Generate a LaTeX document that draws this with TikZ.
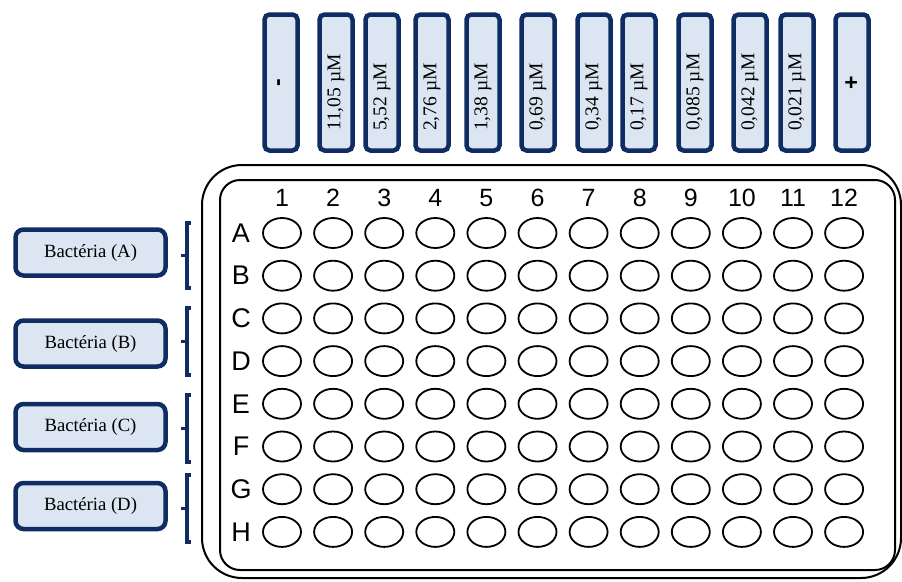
\documentclass[tikz,border=0pt]{standalone}
\usepackage{fontspec}
\setmainfont{Liberation Serif}
\setsansfont{Liberation Sans}
\usetikzlibrary{shapes.geometric}
\definecolor{platenavy}{HTML}{0F2D62}
\definecolor{platepale}{HTML}{DCE6F2}

\tikzset{
  concbox/.style={draw=platenavy, fill=platepale, line width=4.5pt, rounded corners=5pt, rotate=90,
    minimum width=136pt, minimum height=33pt, inner sep=0pt},
  conclabel/.style={rotate=90, anchor=west, inner sep=0pt, font=\fontsize{19.5}{19.5}\selectfont},
  signlabel/.style={font=\sffamily\bfseries\fontsize{23}{23}\selectfont},
  bactbox/.style={draw=platenavy, fill=platepale, line width=4.5pt, rounded corners=8pt,
    minimum width=150pt, minimum height=46pt, inner sep=0pt, font=\fontsize{18.7}{18.7}\selectfont},
  well/.style={draw, ellipse, line width=1.8pt, minimum width=38pt, minimum height=30pt, inner sep=0pt},
  colnum/.style={font=\sffamily\fontsize{25}{25}\selectfont, inner sep=0pt},
  rowletter/.style={font=\sffamily\fontsize{27}{27}\selectfont, inner sep=0pt},
  bracket/.style={draw=platenavy, line width=3.5pt}
}

\begin{document}
\begin{tikzpicture}[x=1pt, y=-1pt]
    \useasboundingbox (0,0) rectangle (902,581);
    % plate outline
    \draw[line width=2pt, rounded corners=40pt] (202,165) rectangle (901,578);
    \draw[line width=2pt, rounded corners=20pt] (220,180) rectangle (895,570);
    % controls and concentrations
    \node[concbox, signlabel] (neg) at (281,82.5) {-};
    \node[concbox, signlabel] (pos) at (852,82.5) {+};
    \foreach \x/\t [count=\i] in {{336/11,05 µM},{382/5,52 µM},{432/2,76 µM},{483/1,38 µM},
        {538/0,69 µM},{594/0,34 µM},{639/0,17 µM},{695/0,085 µM},{750/0,042 µM},{797/0,021 µM}}{
      \node[concbox] (c\i) at (\x,82.5) {};
      \node[conclabel] (t\i) at (\x,131) {\t};
    }
    % column numbers and wells
    \foreach \c in {1,...,12}
      \node[colnum] (n\c) at ({282+51.1*(\c-1)},198) {\c};
    \foreach \r [count=\k] in {A,...,H}{
      \node[rowletter] (r\r) at (241,{233+42.7*(\k-1)}) {\r};
      \foreach \c in {1,...,12}
        \node[well] (w\r\c) at ({282+51.1*(\c-1)},{233+42.7*(\k-1)}) {};
    }
    % bacteria
    \foreach \b/\y in {A/252.5, B/343.5, C/427, D/506}
      \node[bactbox] (b\b) at (90.5,\y) {Bactéria (\b)};
    \foreach \top/\bot in {223/288, 308/375, 395/462, 475/542}{
      \draw[bracket] (191,\top) -- (187,\top) -- (187,\bot) -- (191,\bot);
      \draw[bracket] (187,{(\top+\bot)/2}) -- (181,{(\top+\bot)/2});
    }
\end{tikzpicture}
\end{document}
